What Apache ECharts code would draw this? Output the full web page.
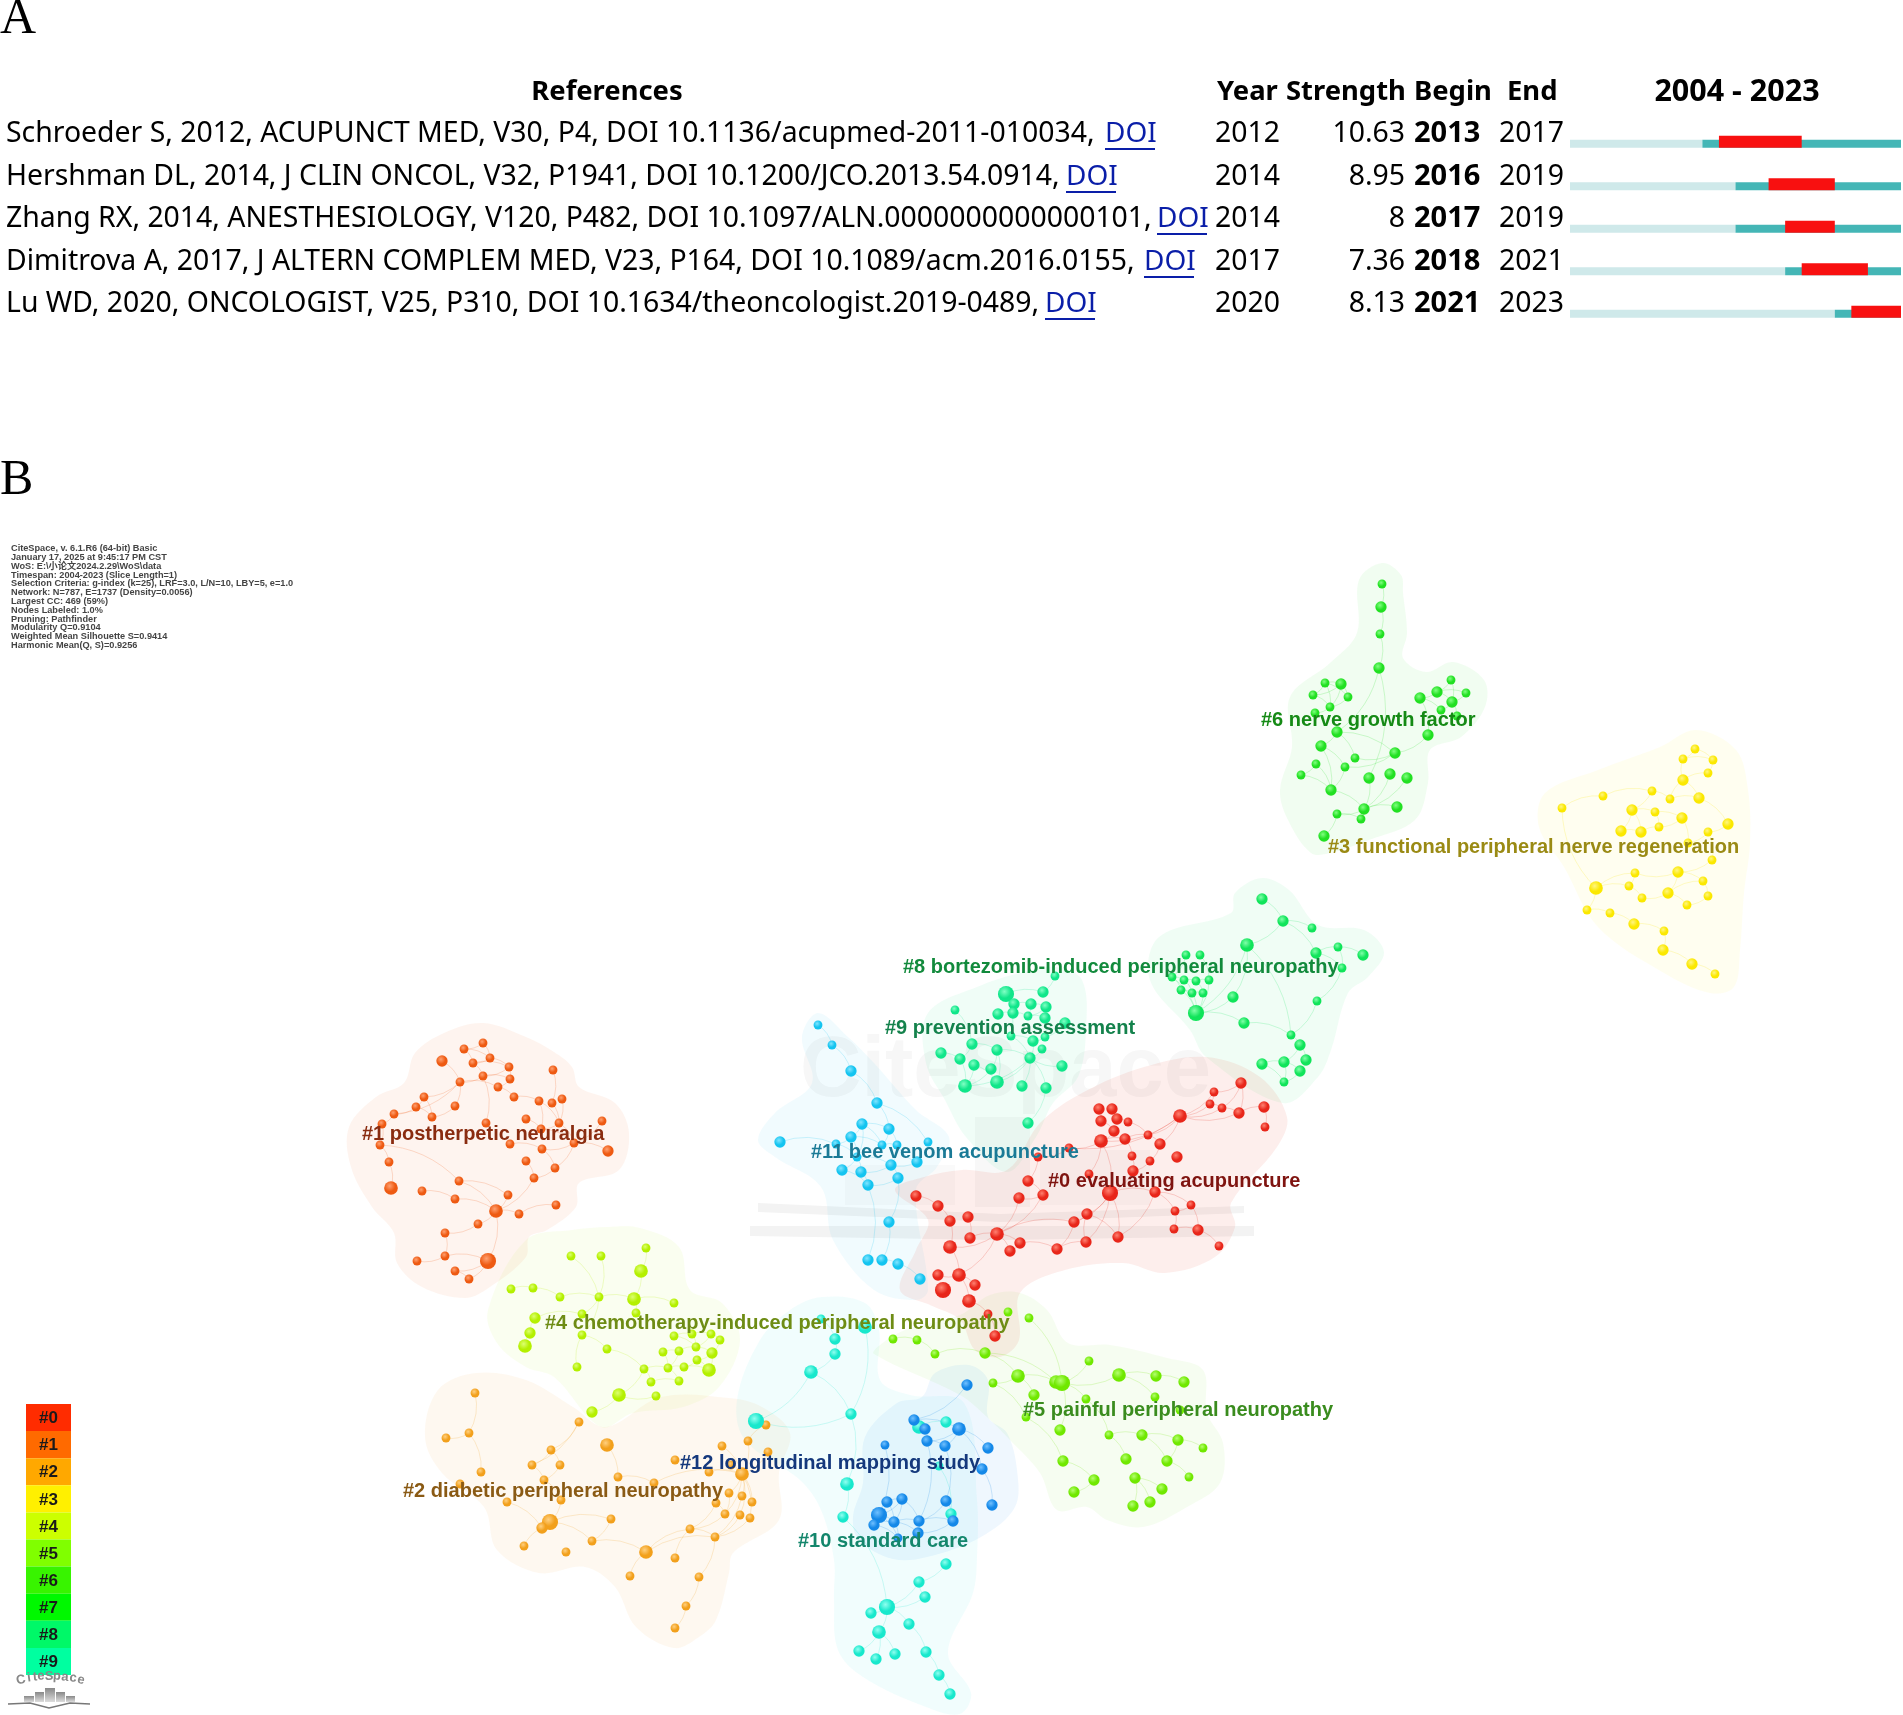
<!DOCTYPE html>
<html>
<head>
<meta charset="utf-8">
<title>CiteSpace burst table and cluster map</title>
<script src="https://cdn.jsdelivr.net/npm/echarts@6/dist/echarts.min.js"></script>
<style>
  html, body { margin: 0; padding: 0; background: #fff; }
  #main { width: 1903px; height: 1715px; }
</style>
</head>
<body>
<div id="main"></div>
<script>
// panel A
const refTexts = [
  'Schroeder S, 2012, ACUPUNCT MED, V30, P4, DOI 10.1136/acupmed-2011-010034,',
  'Hershman DL, 2014, J CLIN ONCOL, V32, P1941, DOI 10.1200/JCO.2013.54.0914,',
  'Zhang RX, 2014, ANESTHESIOLOGY, V120, P482, DOI 10.1097/ALN.0000000000000101,',
  'Dimitrova A, 2017, J ALTERN COMPLEM MED, V23, P164, DOI 10.1089/acm.2016.0155,',
  'Lu WD, 2020, ONCOLOGIST, V25, P310, DOI 10.1634/theoncologist.2019-0489,'
];
const pubYears = [2012, 2014, 2014, 2017, 2020];
const strengths = ['10.63', '8.95', '8', '7.36', '8.13'];
const burstBegin = [2013, 2016, 2017, 2018, 2021];
const burstEnd = [2017, 2019, 2019, 2021, 2023];
const firstYear = 2004;
const lastYear = 2023;

// panel B, nodes are [x, y, citation weight]
const nodes0 = [[1241,1083,2],[1214,1092,1],[1210,1104,1],[1222,1108,1],[1239,1113,2],[1264,1107,2],[1265,1127,1],[1180,1116,3],[1099,1109,2],[1112,1109,2],[1101,1121,2],[1117,1119,2],[1128,1122,1],[1114,1131,2],[1101,1141,3],[1125,1139,2],[1148,1135,1],[1160,1144,2],[1069,1148,1],[1038,1157,1],[1132,1156,1],[1150,1161,1],[1177,1157,2],[1133,1171,2],[1089,1174,1],[1028,1181,2],[1110,1193,4],[1155,1192,2],[1043,1195,2],[1019,1198,2],[916,1196,2],[938,1206,2],[1191,1205,1],[1175,1211,1],[968,1217,2],[950,1221,2],[1087,1214,2],[1074,1222,2],[1174,1229,1],[1198,1230,2],[997,1234,3],[970,1238,2],[1118,1237,2],[1086,1242,2],[1020,1243,2],[1219,1246,1],[950,1247,3],[1057,1249,2],[1010,1251,2],[938,1275,2],[959,1275,3],[975,1285,2],[943,1290,4],[969,1301,3],[988,1314,1],[995,1336,2]];
const links0 = [[0,1],[0,3],[0,4],[1,2],[1,7],[2,3],[2,7],[3,4],[3,7],[4,5],[4,7],[5,6],[7,16],[7,14],[7,17],[7,18],[8,10],[9,11],[10,13],[11,12],[12,16],[13,14],[14,15],[14,18],[14,24],[14,26],[15,16],[15,20],[16,17],[17,21],[18,19],[19,25],[20,23],[21,23],[23,26],[24,26],[26,27],[26,36],[26,37],[26,42],[26,43],[27,33],[27,32],[32,33],[33,38],[38,39],[32,39],[39,45],[25,28],[28,29],[28,40],[29,40],[30,31],[31,35],[35,46],[34,41],[41,40],[40,46],[40,37],[40,44],[44,48],[40,48],[44,47],[47,43],[43,36],[36,37],[36,42],[46,50],[50,49],[50,51],[50,53],[53,54],[54,55],[40,50],[37,47],[27,42]];
const hull0 = [[1206,1057],[1260,1077],[1287,1117],[1277,1147],[1231,1203],[1235,1227],[1215,1257],[1165,1273],[1123,1263],[1065,1270],[1020,1293],[1019,1340],[1000,1357],[975,1350],[960,1320],[930,1305],[900,1290],[916,1250],[928,1220],[895,1190],[924,1177],[962,1170],[1007,1170],[1040,1123],[1082,1093],[1144,1067]];

const nodes1 = [[483,1043,1],[464,1049,1],[442,1061,2],[490,1058,1],[473,1063,1],[509,1067,1],[483,1076,1],[510,1079,1],[460,1082,1],[498,1087,1],[553,1070,1],[424,1097,1],[514,1097,1],[539,1101,1],[552,1103,1],[562,1099,1],[416,1107,1],[455,1106,1],[394,1114,1],[432,1117,1],[526,1119,1],[382,1124,1],[486,1123,1],[559,1123,1],[602,1121,1],[541,1129,1],[380,1145,1],[510,1144,1],[574,1143,1],[542,1149,1],[608,1151,2],[389,1162,1],[526,1161,1],[555,1168,1],[534,1178,1],[459,1181,1],[391,1188,3],[422,1191,1],[455,1199,1],[508,1195,1],[556,1205,1],[496,1211,3],[519,1214,1],[478,1224,1],[445,1233,1],[445,1256,1],[488,1261,4],[417,1261,1],[455,1271,1],[469,1279,1]];
const links1 = [[0,1],[0,3],[1,3],[1,4],[3,4],[2,8],[3,5],[4,5],[4,6],[5,6],[5,7],[6,7],[6,8],[7,9],[8,9],[8,11],[8,17],[8,18],[6,22],[9,12],[11,16],[16,18],[18,21],[16,19],[11,19],[17,19],[10,14],[12,13],[13,23],[13,25],[14,23],[15,23],[20,25],[23,25],[23,28],[25,28],[24,28],[28,30],[28,29],[29,33],[28,33],[33,34],[32,34],[34,41],[21,26],[26,31],[31,36],[26,35],[35,39],[35,41],[37,38],[38,41],[39,41],[41,42],[42,40],[41,43],[43,44],[44,45],[45,47],[45,46],[46,48],[46,49],[41,46],[48,49],[27,29]];
const hull1 = [[483,1023],[526,1037],[554,1052],[572,1067],[579,1087],[615,1103],[629,1133],[619,1170],[579,1183],[576,1207],[547,1230],[529,1237],[526,1257],[490,1287],[465,1298],[422,1287],[397,1263],[394,1233],[372,1207],[351,1167],[349,1127],[376,1097],[404,1083],[415,1053],[444,1033]];

const nodes2 = [[475,1393,1],[469,1433,1],[446,1438,1],[579,1422,1],[607,1445,3],[551,1450,1],[532,1465,1],[560,1465,1],[481,1472,1],[544,1480,1],[460,1484,1],[618,1477,1],[654,1483,1],[675,1460,1],[722,1446,1],[748,1441,1],[766,1425,1],[768,1452,1],[731,1465,1],[709,1472,1],[742,1474,3],[729,1493,1],[742,1496,1],[752,1502,1],[716,1503,1],[507,1502,1],[561,1500,1],[725,1514,1],[740,1515,1],[750,1518,1],[550,1522,4],[542,1528,2],[611,1519,1],[690,1529,1],[715,1537,1],[592,1541,1],[524,1546,1],[566,1552,1],[646,1552,3],[675,1558,1],[630,1576,1],[699,1577,1],[686,1606,1],[675,1628,1]];
const links2 = [[0,1],[1,2],[1,8],[3,5],[3,6],[5,6],[5,7],[6,9],[7,9],[4,11],[11,12],[25,31],[9,26],[26,30],[30,31],[30,35],[30,32],[32,35],[35,38],[38,33],[38,34],[33,34],[34,41],[41,42],[42,43],[39,33],[40,38],[15,16],[14,20],[15,20],[17,20],[18,20],[20,21],[20,22],[20,23],[20,27],[20,28],[20,29],[21,27],[19,20],[12,20],[24,27],[27,33],[28,34],[29,34],[22,34],[24,33],[36,31]];
const hull2 = [[476,1373],[526,1380],[573,1407],[606,1427],[661,1397],[729,1398],[762,1407],[790,1433],[779,1473],[779,1520],[733,1553],[729,1573],[716,1620],[699,1637],[674,1648],[636,1627],[615,1587],[585,1567],[539,1573],[497,1550],[484,1507],[442,1473],[425,1437],[438,1390]];

const nodes3 = [[1562,808,1],[1603,796,1],[1652,791,1],[1670,799,1],[1683,780,2],[1695,749,1],[1683,759,1],[1713,760,1],[1708,773,1],[1699,798,2],[1632,810,2],[1655,812,1],[1682,818,2],[1621,831,2],[1641,832,2],[1659,827,1],[1708,832,1],[1728,824,2],[1712,860,1],[1635,873,1],[1678,872,2],[1703,881,1],[1596,888,3],[1629,886,1],[1668,893,2],[1642,898,1],[1708,896,1],[1687,905,1],[1587,910,1],[1610,913,1],[1634,924,2],[1664,931,1],[1663,950,2],[1692,964,2],[1715,974,1],[1688,843,1]];
const links3 = [[0,1],[1,2],[2,3],[3,4],[4,6],[5,6],[5,7],[6,7],[4,8],[7,8],[3,9],[4,9],[9,17],[2,10],[10,11],[10,13],[10,14],[11,15],[11,12],[12,15],[13,14],[14,15],[12,35],[17,16],[16,18],[18,20],[20,21],[20,24],[20,19],[19,23],[22,23],[22,19],[23,25],[24,25],[24,27],[24,21],[21,26],[26,27],[22,28],[28,29],[22,0],[30,31],[31,32],[32,33],[33,34],[29,30],[16,35]];
const hull3 = [[1696,730],[1736,750],[1748,790],[1750,843],[1744,893],[1740,950],[1734,987],[1710,993],[1664,973],[1598,927],[1564,867],[1539,827],[1545,793],[1598,770],[1660,747]];

const nodes4 = [[646,1248,1],[571,1256,1],[601,1256,1],[641,1271,3],[511,1289,1],[533,1288,1],[560,1297,1],[599,1297,1],[634,1299,3],[674,1303,1],[582,1314,1],[636,1313,1],[535,1318,2],[530,1333,2],[582,1335,1],[674,1336,1],[692,1334,1],[711,1334,1],[720,1340,1],[525,1346,3],[607,1349,1],[663,1352,1],[679,1351,1],[696,1347,1],[712,1353,2],[697,1360,1],[577,1367,1],[644,1369,1],[668,1368,1],[684,1367,1],[709,1370,3],[651,1382,1],[679,1381,1],[656,1396,1],[619,1395,3],[592,1412,2]];
const links4 = [[0,3],[3,8],[1,7],[2,7],[4,5],[5,6],[6,7],[7,8],[7,10],[8,9],[8,11],[7,14],[12,10],[13,12],[19,13],[14,20],[15,23],[16,23],[17,23],[15,16],[21,22],[22,23],[23,24],[17,18],[18,24],[24,25],[25,29],[22,28],[21,28],[27,28],[28,29],[29,30],[25,30],[24,30],[27,31],[31,32],[28,32],[27,34],[34,35],[33,34],[26,14],[20,27],[16,17]];
const hull4 = [[640,1228],[679,1247],[690,1290],[722,1303],[740,1340],[719,1387],[683,1407],[633,1413],[601,1427],[554,1377],[526,1367],[497,1343],[488,1310],[526,1240],[572,1230],[608,1227]];

const nodes5 = [[1008,1312,1],[1029,1318,1],[985,1353,2],[1089,1361,1],[1119,1375,3],[1156,1376,2],[1184,1382,2],[1018,1376,3],[1056,1382,3],[1062,1383,4],[993,1383,1],[1034,1395,2],[1086,1399,1],[1155,1397,1],[1026,1417,1],[1180,1410,1],[1060,1430,2],[1109,1435,1],[1142,1435,2],[1178,1440,2],[1203,1448,1],[1126,1459,2],[1167,1461,2],[1063,1461,2],[1189,1477,1],[1135,1478,2],[1094,1480,2],[1162,1489,2],[1074,1492,2],[1150,1502,2],[1133,1506,2],[893,1339,1],[917,1340,1],[935,1354,1]];
const links5 = [[1,9],[3,9],[4,9],[4,5],[5,6],[4,13],[7,8],[2,7],[2,8],[7,10],[8,9],[7,11],[10,14],[9,12],[12,17],[14,23],[23,26],[26,28],[17,18],[18,19],[19,20],[17,21],[19,22],[18,22],[22,24],[25,27],[25,29],[25,30],[31,32],[32,33],[33,2],[9,16]];
const hull5 = [[1020,1293],[1047,1310],[1068,1343],[1110,1345],[1167,1358],[1203,1370],[1207,1413],[1223,1443],[1220,1483],[1187,1507],[1143,1527],[1107,1520],[1087,1507],[1057,1510],[1040,1473],[1010,1440],[987,1417],[960,1395],[874,1354],[880,1345],[905,1330],[960,1315],[990,1295]];

const nodes6 = [[1382,584,1],[1381,607,2],[1380,634,1],[1379,668,2],[1325,683,1],[1341,684,2],[1313,695,1],[1348,697,1],[1330,707,1],[1315,713,1],[1451,680,1],[1437,692,2],[1466,693,1],[1420,698,2],[1452,702,2],[1441,710,1],[1457,716,1],[1337,732,2],[1428,735,2],[1321,746,2],[1395,753,2],[1355,758,1],[1316,764,1],[1345,767,1],[1301,775,1],[1369,778,2],[1390,774,2],[1407,778,2],[1331,790,2],[1364,809,2],[1397,807,2],[1337,814,1],[1361,819,1],[1324,836,2]];
const links6 = [[0,1],[1,2],[2,3],[3,25],[4,5],[4,6],[4,7],[5,6],[5,7],[5,8],[6,8],[7,8],[8,9],[4,8],[10,11],[10,14],[11,12],[11,14],[12,14],[11,13],[13,15],[14,15],[14,16],[17,19],[17,20],[17,21],[18,20],[20,21],[20,23],[19,23],[19,28],[22,24],[22,28],[24,28],[23,28],[25,29],[26,29],[27,29],[28,29],[29,30],[29,31],[31,33],[29,32],[31,32],[3,17],[13,18]];
const hull6 = [[1382,563],[1401,575],[1403,593],[1407,633],[1403,658],[1426,672],[1453,662],[1484,680],[1485,707],[1461,737],[1430,750],[1428,783],[1415,820],[1369,840],[1330,853],[1311,853],[1288,820],[1280,790],[1292,747],[1290,697],[1330,663],[1357,633],[1359,580]];

const nodes8 = [[1262,899,2],[1283,921,2],[1312,928,1],[1247,945,3],[1316,953,2],[1338,947,1],[1363,955,2],[1342,968,1],[1186,955,1],[1200,955,1],[1172,977,1],[1184,980,1],[1196,981,1],[1209,980,1],[1181,990,1],[1192,993,1],[1203,993,1],[1233,997,2],[1317,1001,1],[1196,1013,4],[1244,1023,2],[1291,1035,1],[1300,1045,2],[1262,1064,2],[1284,1062,2],[1306,1060,2],[1300,1071,2],[1284,1082,1]];
const links8 = [[0,1],[1,2],[1,3],[1,4],[4,5],[5,6],[4,7],[5,7],[3,19],[3,17],[3,21],[17,19],[8,10],[9,13],[10,11],[11,12],[12,13],[14,15],[15,16],[10,14],[11,15],[12,16],[14,19],[15,19],[16,19],[13,19],[10,19],[19,20],[20,21],[18,21],[21,22],[22,24],[22,25],[23,24],[24,26],[25,26],[26,27],[23,27],[24,27],[7,18]];
const hull8 = [[1262,878],[1289,890],[1318,925],[1364,930],[1384,952],[1368,977],[1348,993],[1331,1050],[1318,1077],[1283,1103],[1206,1057],[1190,1030],[1150,980],[1159,937],[1231,913],[1235,893]];

const nodes9 = [[1055,976,1],[1006,994,4],[1043,992,2],[955,1010,1],[1014,1004,2],[1031,1004,2],[1046,1007,2],[998,1014,2],[1013,1013,2],[1028,1016,1],[1045,1018,2],[1065,1023,2],[1011,1036,1],[1045,1037,1],[972,1044,2],[1033,1041,2],[1042,1049,1],[997,1050,2],[941,1053,2],[960,1059,2],[1030,1058,2],[974,1065,2],[991,1069,2],[1062,1066,2],[965,1086,3],[997,1082,3],[1022,1086,2],[1046,1088,2],[1028,1123,2]];
const links9 = [[0,2],[1,2],[1,4],[1,8],[4,5],[4,8],[5,9],[6,9],[5,6],[7,8],[8,9],[9,10],[3,14],[12,15],[13,15],[12,20],[15,20],[16,20],[17,20],[14,17],[14,19],[18,19],[19,24],[21,24],[22,24],[17,22],[17,25],[20,25],[20,24],[20,26],[20,27],[23,20],[21,25],[27,28],[1,12],[10,13],[11,13]];
const hull9 = [[1055,967],[1082,980],[1086,1030],[1078,1077],[1053,1103],[1036,1137],[1007,1172],[966,1137],[945,1100],[926,1063],[928,1013],[982,985],[1020,973]];

const nodes10 = [[821,1319,1],[835,1339,2],[835,1354,2],[865,1327,3],[811,1372,3],[851,1414,2],[756,1421,4],[919,1427,3],[946,1422,2],[939,1466,1],[847,1484,3],[843,1517,2],[951,1514,2],[946,1564,2],[919,1582,2],[925,1597,2],[887,1607,4],[871,1613,2],[909,1624,2],[879,1632,3],[859,1651,2],[876,1659,2],[895,1654,2],[926,1652,2],[939,1675,2],[950,1694,2]];
const links10 = [[0,1],[1,2],[2,4],[4,6],[4,5],[5,6],[3,5],[5,10],[10,11],[11,16],[13,14],[14,16],[15,14],[15,16],[16,17],[16,19],[16,18],[19,20],[19,21],[19,22],[18,23],[23,24],[24,25],[7,8],[9,12]];
const hull10 = [[822,1297],[865,1303],[879,1330],[880,1380],[910,1395],[964,1403],[977,1500],[977,1557],[973,1593],[948,1653],[971,1693],[960,1714],[926,1707],[863,1677],[838,1650],[834,1600],[834,1560],[821,1510],[800,1480],[745,1440],[737,1400],[760,1340],[790,1310]];

const nodes11 = [[818,1025,1],[832,1045,1],[851,1071,2],[877,1103,2],[862,1124,2],[889,1129,2],[851,1137,2],[780,1142,2],[836,1144,1],[882,1145,1],[897,1145,1],[928,1142,1],[857,1157,1],[891,1165,2],[917,1162,2],[842,1170,2],[861,1172,2],[898,1178,2],[868,1185,2],[889,1222,2],[868,1260,2],[882,1260,2],[898,1264,2],[920,1279,2]];
const links11 = [[0,1],[1,2],[2,3],[3,11],[3,5],[4,5],[4,6],[4,9],[5,9],[6,8],[6,9],[6,12],[8,12],[7,8],[9,10],[10,13],[12,13],[12,15],[12,16],[13,16],[13,17],[14,13],[14,10],[15,18],[16,18],[17,18],[18,20],[17,19],[19,21],[21,22],[22,23],[5,10],[4,12]];
const hull11 = [[818,1013],[848,1037],[874,1063],[916,1110],[949,1137],[937,1167],[916,1190],[928,1290],[916,1300],[874,1290],[833,1240],[821,1187],[775,1157],[758,1140],[775,1113],[812,1083],[802,1037]];

const nodes12 = [[967,1385,2],[914,1420,2],[925,1429,2],[959,1429,3],[927,1441,2],[945,1446,2],[885,1445,1],[988,1448,2],[982,1469,2],[887,1502,2],[902,1499,2],[946,1501,2],[992,1505,2],[879,1515,4],[874,1525,2],[894,1522,2],[919,1521,2],[953,1521,2],[918,1533,2],[898,1538,1]];
const links12 = [[0,1],[1,2],[1,3],[2,4],[3,4],[3,5],[4,5],[3,7],[3,8],[8,12],[5,11],[4,16],[6,13],[9,10],[9,13],[9,15],[10,13],[10,15],[10,16],[13,14],[13,15],[14,15],[15,16],[16,17],[11,17],[16,18],[17,18],[15,18],[15,19],[14,19],[13,19],[11,16]];
const hull12 = [[969,1365],[988,1380],[988,1417],[1007,1433],[1017,1470],[1015,1507],[981,1537],[927,1557],[893,1559],[859,1540],[853,1517],[863,1483],[865,1437],[897,1403],[922,1397],[935,1373]];

// cluster labels
const labelTexts = ['#6 nerve growth factor', '#3 functional peripheral nerve regeneration', '#8 bortezomib-induced peripheral neuropathy', '#9 prevention assessment', '#11 bee venom acupuncture', '#0 evaluating acupuncture', '#1 postherpetic neuralgia', '#4 chemotherapy-induced peripheral neuropathy', '#5 painful peripheral neuropathy', '#12 longitudinal mapping study', '#2 diabetic peripheral neuropathy', '#10 standard care'];
const labelX = [1261, 1328, 903, 885, 811, 1048, 362, 545, 1023, 680, 403, 798];
const labelY = [720, 847, 967, 1028, 1152, 1181, 1134, 1323, 1410, 1463, 1491, 1541];
const labelColors = ['#158a15', '#9a8a14', '#128a3c', '#14824c', '#1a7a96', '#7f1410', '#8a2c10', '#6e8c14', '#3a8c1e', '#14387c', '#8a5a14', '#14866c'];

// colour key
const keyTags = ['#0', '#1', '#2', '#3', '#4', '#5', '#6', '#7', '#8', '#9'];
const keyColors = ['#ff2c00', '#ff6a00', '#ffa800', '#fff000', '#ccff00', '#80ff00', '#38f400', '#00f800', '#00f868', '#00ffa0'];

const infoLines = [
  'CiteSpace, v. 6.1.R6 (64-bit) Basic',
  'January 17, 2025 at 9:45:17 PM CST',
  'WoS: E:\\小论文2024.2.29\\WoS\\data',
  'Timespan: 2004-2023 (Slice Length=1)',
  'Selection Criteria: g-index (k=25), LRF=3.0, L/N=10, LBY=5, e=1.0',
  'Network: N=787, E=1737 (Density=0.0056)',
  'Largest CC: 469 (59%)',
  'Nodes Labeled: 1.0%',
  'Pruning: Pathfinder',
  'Modularity Q=0.9104',
  'Weighted Mean Silhouette S=0.9414',
  'Harmonic Mean(Q, S)=0.9256'
];

const clusters = [
  { nodes: nodes1, links: links1, hull: hull1, color: '#ee5a12', light: '#ffa070', fill: 'rgba(238,120,50,0.08)' },
  { nodes: nodes2, links: links2, hull: hull2, color: '#f2a01c', light: '#ffd080', fill: 'rgba(240,170,60,0.08)' },
  { nodes: nodes3, links: links3, hull: hull3, color: '#fbe800', light: '#fff680', fill: 'rgba(250,240,60,0.08)' },
  { nodes: nodes4, links: links4, hull: hull4, color: '#b4f000', light: '#dcff70', fill: 'rgba(190,240,60,0.08)' },
  { nodes: nodes6, links: links6, hull: hull6, color: '#22e022', light: '#80ff80', fill: 'rgba(60,220,60,0.07)' },
  { nodes: nodes8, links: links8, hull: hull8, color: '#10e45a', light: '#80ffa8', fill: 'rgba(40,225,110,0.07)' },
  { nodes: nodes9, links: links9, hull: hull9, color: '#10e68a', light: '#80ffc4', fill: 'rgba(40,225,140,0.07)' },
  { nodes: nodes11, links: links11, hull: hull11, color: '#14c4f0', light: '#80e4ff', fill: 'rgba(60,200,240,0.07)' },
  { nodes: nodes10, links: links10, hull: hull10, color: '#18e8cc', light: '#90fff0', fill: 'rgba(60,230,220,0.07)' },
  { nodes: nodes5, links: links5, hull: hull5, color: '#70e800', light: '#b4ff70', fill: 'rgba(130,225,50,0.07)' },
  { nodes: nodes12, links: links12, hull: hull12, color: '#1488e8', light: '#70c0ff', fill: 'rgba(50,150,240,0.08)' },
  { nodes: nodes0, links: links0, hull: hull0, color: '#e8261a', light: '#ff8070', fill: 'rgba(235,70,40,0.09)' }
];

// table columns, page pixels
const doiX = [1105, 1066, 1157, 1144, 1045];
const rowY = [134, 177, 219, 262, 304];
const tableFont = '"Noto Sans", "Liberation Sans", sans-serif';

function text(x, y, str, fill, font, align, baseline) {
  return { type: 'text', style: { x, y, text: str, fill, font, align: align || 'left', verticalAlign: baseline || 'middle' } };
}

function tableItem(params, api) {
  if (params.dataIndex !== 0) return;
  const at = (x, y) => api.coord([x, y]);
  const kids = [];
  const put = (x, y, str, fill, font, align) => {
    const p = at(x, y);
    kids.push(text(p[0], p[1], str, fill, font, align));
  };
  const reg = '28.4px ' + tableFont;
  const bold = 'bold 29px ' + tableFont;
  const head = 'bold 27.4px ' + tableFont;
  put(607, 92, 'References', '#000', head, 'center');
  put(1217, 92, 'Year', '#000', head);
  put(1286, 92, 'Strength', '#000', head);
  put(1414, 92, 'Begin', '#000', head);
  put(1507, 92, 'End', '#000', head);
  put(1737, 92, firstYear + ' - ' + lastYear, '#000', 'bold 30.5px ' + tableFont, 'center');
  refTexts.forEach((r, i) => {
    put(6, rowY[i], r, '#000', reg);
    put(doiX[i], rowY[i], 'DOI', '#0a1ea8', '28px ' + tableFont);
    const u = at(doiX[i], rowY[i] + 14);
    kids.push({ type: 'rect', shape: { x: u[0], y: u[1], width: 50, height: 2 }, style: { fill: '#0a1ea8' } });
    put(1215, rowY[i], String(pubYears[i]), '#000', reg);
    put(1405, rowY[i], strengths[i], '#000', reg, 'right');
    put(1414, rowY[i], String(burstBegin[i]), '#000', bold);
    put(1499, rowY[i], String(burstEnd[i]), '#000', reg);
  });
  return { type: 'group', children: kids };
}

function burstItem(params, api) {
  const row = params.dataIndex;
  const rect = (from, to, top, bottom, fill) => {
    const a = api.coord([from, row]);
    const b = api.coord([to, row]);
    return { type: 'rect', shape: { x: a[0], y: a[1] + top, width: b[0] - a[0], height: bottom - top }, style: { fill } };
  };
  return {
    type: 'group',
    children: [
      rect(firstYear, pubYears[row], -4, 4, '#cfe9ea'),
      rect(pubYears[row], lastYear + 1, -4, 4, '#44b6b6'),
      rect(burstBegin[row], burstEnd[row] + 1, -8, 4, '#f81010')
    ]
  };
}

function hullItem(hull, fill) {
  return function (params, api) {
    if (params.dataIndex !== 0) return;
    return {
      type: 'polygon',
      shape: { points: hull.map(p => api.coord(p)), smooth: 0.35 },
      style: { fill }
    };
  };
}

function labelItem(params, api) {
  const i = params.dataIndex;
  const p = api.coord([labelX[i], labelY[i]]);
  return text(p[0], p[1], labelTexts[i], labelColors[i], 'bold 20px "Liberation Sans", Arial, sans-serif');
}

const series = [];
clusters.forEach(c => {
  series.push({
    type: 'custom', xAxisIndex: 0, yAxisIndex: 0, silent: true, z: 1, clip: false,
    data: c.hull, encode: { x: 0, y: 1 }, renderItem: hullItem(c.hull, c.fill)
  });
});
clusters.forEach(c => {
  series.push({
    type: 'graph', coordinateSystem: 'cartesian2d', xAxisIndex: 0, yAxisIndex: 0, silent: true, z: 3,
    layout: 'none', animation: false,
    data: c.nodes.map(n => ({
      value: [n[0], n[1]],
      symbolSize: 6.5 + n[2] * 2.4,
      itemStyle: {
        color: { type: 'radial', x: 0.4, y: 0.35, r: 0.75, colorStops: [{ offset: 0, color: c.light }, { offset: 0.55, color: c.color }, { offset: 1, color: c.color }] }
      }
    })),
    links: c.links.map(l => ({ source: l[0], target: l[1] })),
    lineStyle: { color: c.color, opacity: 0.2, width: 1, curveness: 0.2 },
    label: { show: false }
  });
});
series.push({
  type: 'custom', xAxisIndex: 0, yAxisIndex: 0, silent: true, z: 5, clip: false,
  data: labelTexts.map((t, i) => [labelX[i], labelY[i]]), encode: { x: 0, y: 1 }, renderItem: labelItem
});
series.push({
  type: 'custom', xAxisIndex: 0, yAxisIndex: 0, silent: true, z: 5, clip: false,
  data: refTexts.map((t, i) => [6, rowY[i]]), encode: { x: 0, y: 1 }, renderItem: tableItem
});
series.push({
  type: 'custom', xAxisIndex: 1, yAxisIndex: 1, silent: true, z: 4, clip: false,
  data: pubYears.map((y, i) => [y, i]), encode: { x: 0, y: 1 }, renderItem: burstItem
});
series.push({
  type: 'bar', xAxisIndex: 2, yAxisIndex: 2, silent: true, z: 4, barWidth: '100%',
  data: keyTags.map((t, i) => ({ value: 1, itemStyle: { color: keyColors[i] } })),
  label: {
    show: true, position: 'inside', formatter: p => keyTags[p.dataIndex],
    color: '#1a1a1a', fontFamily: '"Liberation Sans", Arial, sans-serif', fontWeight: 'bold', fontSize: 17, offset: [0, 1]
  }
});

// watermark and small logo are decoration, not data
const wmFill = '#f7f7f7';
const logoLetters = 'CiteSpace'.split('');
const logoX = [21, 29, 35, 41, 49, 57, 65, 73, 81];
const logoY = [1680, 1678, 1677, 1676, 1676, 1676, 1677, 1678, 1680];
const logoRot = [0.2, 0.14, 0.1, 0.05, 0, -0.05, -0.1, -0.14, -0.2];
const logoBars = [[24, 1696, 10, 6], [35, 1692, 9, 10], [45, 1688, 10, 14], [56, 1692, 9, 10], [66, 1696, 9, 6]];

const graphicEls = [
  { type: 'text', left: 0, top: -5, z: 10, style: { text: 'A', font: '50px "Liberation Serif", serif', fill: '#000' } },
  { type: 'text', left: 0, top: 456, z: 10, style: { text: 'B', font: '50px "Liberation Serif", serif', fill: '#000' } },
  { type: 'text', left: 800, top: 1030, z: -1, style: { text: 'CiteSpace', font: 'bold 85px "Liberation Sans", sans-serif', fill: wmFill } },
  { type: 'rect', left: 975, top: 1117, z: -1, shape: { width: 55, height: 90 }, style: { fill: '#f8f8f8' } },
  { type: 'rect', left: 845, top: 1165, z: -1, shape: { width: 110, height: 40 }, style: { fill: '#fafafa' } },
  { type: 'rect', left: 1040, top: 1150, z: -1, shape: { width: 110, height: 55 }, style: { fill: '#fafafa' } },
  { type: 'polygon', z: -1, shape: { points: [[758, 1203], [1000, 1214], [1244, 1206], [1244, 1213], [1000, 1222], [758, 1212]] }, style: { fill: '#f3f3f3' } },
  { type: 'polygon', z: -1, shape: { points: [[750, 1226], [1000, 1226], [1254, 1226], [1254, 1236], [1000, 1240], [750, 1236]] }, style: { fill: '#f3f3f3' } }
];
infoLines.forEach((line, i) => {
  graphicEls.push({
    type: 'text', left: 11, top: 544 + i * 8.8, z: 10,
    style: { text: line, font: 'bold 9.2px "Liberation Sans", "Noto Sans CJK SC", sans-serif', fill: '#222', opacity: 0.85 }
  });
});
logoLetters.forEach((l, i) => {
  graphicEls.push({
    type: 'text', x: logoX[i], y: logoY[i], rotation: logoRot[i], z: 10,
    style: { text: l, font: 'bold 13px "Liberation Sans", sans-serif', fill: '#888', align: 'center', verticalAlign: 'middle' }
  });
});
logoBars.forEach(b => {
  graphicEls.push({
    type: 'rect', x: b[0], y: b[1], z: 10, shape: { width: b[2], height: b[3] },
    style: { fill: { type: 'linear', x: 0, y: 0, x2: 0, y2: 1, colorStops: [{ offset: 0, color: '#888' }, { offset: 1, color: '#ddd' }] } }
  });
});
graphicEls.push({ type: 'polyline', z: 10, shape: { points: [[8, 1704], [30, 1703], [49, 1708], [70, 1703], [90, 1704]] }, style: { stroke: '#777', lineWidth: 1.5, fill: 'none' } });

const chart = echarts.init(document.getElementById('main'), null, { renderer: 'canvas' });
chart.setOption({
  animation: false,
  backgroundColor: '#fff',
  grid: [
    { left: 0, top: 0, width: 1903, height: 1715 },
    { left: 1570, top: 122.5, width: 331, height: 212.5 },
    { left: 26, top: 1404, width: 45, height: 271 }
  ],
  xAxis: [
    { type: 'value', gridIndex: 0, min: 0, max: 1903, show: false },
    { type: 'value', gridIndex: 1, min: firstYear, max: lastYear + 1, show: false },
    { type: 'value', gridIndex: 2, min: 0, max: 1, show: false }
  ],
  yAxis: [
    { type: 'value', gridIndex: 0, min: 0, max: 1715, inverse: true, show: false },
    { type: 'category', gridIndex: 1, data: refTexts.map((t, i) => i), inverse: true, show: false },
    { type: 'category', gridIndex: 2, data: keyTags, inverse: true, show: false }
  ],
  graphic: { elements: graphicEls },
  series
});
</script>
</body>
</html>
